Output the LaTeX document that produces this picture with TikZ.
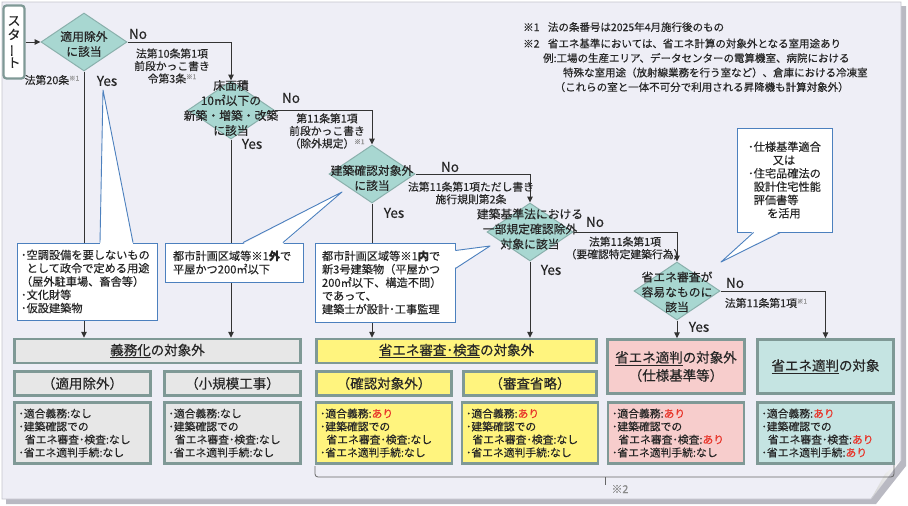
\documentclass[tikz,border=0pt]{standalone}
\usepackage{fontspec}
\setmainfont{Noto Sans CJK JP}[FakeBold=0.3]
\usepackage{xcolor}
\usepackage{tikz}
\usetikzlibrary{arrows.meta,shapes.geometric}
\definecolor{txt}{HTML}{262626}
\definecolor{linec}{HTML}{333333}
\definecolor{panel}{HTML}{EEEEF6}
\definecolor{panelline}{HTML}{C4C4CE}
\definecolor{shadowc}{HTML}{B9B9C2}
\definecolor{diafill}{HTML}{A8D7D1}
\definecolor{diaedge}{HTML}{8AB0AC}
\definecolor{boxedge}{HTML}{7F9996}
\definecolor{grayfill}{HTML}{E7E7E7}
\definecolor{yelfill}{HTML}{FFF47E}
\definecolor{pinkfill}{HTML}{F7CDCC}
\definecolor{tealfill}{HTML}{C5E4E2}
\definecolor{callc}{HTML}{4C80BE}
\definecolor{redtxt}{HTML}{E8352A}
\definecolor{notegray}{HTML}{8A8A8A}
\newcommand{\kome}[1]{\raisebox{3.5pt}{\fontsize{6.5}{7}\selectfont\textcolor{notegray}{※#1}}}
\newcommand{\ari}{\textcolor{redtxt}{あり}}
\tikzset{
  conn/.style={draw=linec, line width=1pt, -{Triangle[length=6pt,width=5.5pt]}},
  startbox/.style={draw=boxedge, fill=white, line width=2.2pt, rounded corners=3pt, minimum width=21pt, minimum height=73pt, inner sep=0pt, align=center, text=txt, font=\fontsize{13}{14}\selectfont},
  dia/.style={diamond, draw=diaedge, fill=diafill, line width=1pt, minimum width=86pt, minimum height=58pt, inner sep=0pt},
  dtxt/.style={text=txt, align=center, font=\fontsize{11.8}{15}\selectfont, inner sep=0pt},
  lbl/.style={text=txt, align=center, font=\fontsize{10.8}{12.5}\selectfont, inner sep=0pt},
  yn/.style={text=txt, font=\fontsize{13.5}{14}\selectfont, inner sep=0pt},
  call/.style={draw=callc, fill=white, line width=0.9pt, text=txt, align=left, inner sep=0pt, font=\fontsize{11.2}{13.3}\selectfont},
  tail/.style={draw=callc, line width=0.9pt, line join=round},
  hdr/.style={draw=boxedge, line width=2.5pt, text=txt, align=center, inner sep=0pt, font=\fontsize{13.5}{18}\selectfont},
  det/.style={draw=boxedge, line width=2.5pt, text=txt, align=left, inner xsep=4pt, inner ysep=0pt, text width=128pt, minimum height=61pt, font=\fontsize{10.8}{13}\selectfont},
  brace/.style={draw=gray!80!black, line width=0.8pt, rounded corners=3pt},
  notes/.style={text=txt, align=left, inner sep=0pt, font=\fontsize{10.5}{14.5}\selectfont},
}
\begin{document}
\begin{tikzpicture}[x=1pt,y=-1pt]
  \useasboundingbox (0,0) rectangle (908,506);
  \fill[white] (0,0) rectangle (908,506);
  \fill[shadowc] (6,6) -- (906,6) -- (906,466) -- (876,504) -- (6,504) -- cycle;
  \filldraw[fill=panel, draw=panelline, line width=0.8pt] (2,2) -- (901,2) -- (901,460) -- (871,499) -- (2,499) -- cycle;
  \shade[left color=gray!35, right color=white] (901,460) -- (871,499) -- (885,474) -- cycle;

  % notes
  \node[notes, anchor=north west] (notes) at (523,22) {※1\hspace{0.8em}法の条番号は2025年4月施行後のもの\\[2pt]※2\hspace{0.8em}省エネ基準においては、省エネ計算の対象外となる室用途あり\\\hspace{1.9em}例:工場の生産エリア、データセンターの電算機室、病院における\\\hspace{3.8em}特殊な室用途（放射線業務を行う室など）、倉庫における冷凍室\\\hspace{3em}（これらの室と一体不可分で利用される昇降機も計算対象外）};

  % start and decisions
  \node[startbox] (start) at (14,42) {ス\\タ\\\rotatebox[origin=c]{90}{ー}\\ト};
  \node[dia] (d1) at (84,42) {};
  \node[dia] (d2) at (231,110) {};
  \node[dia] (d3) at (372,174) {};
  \node[dia] (d4) at (530,232) {};
  \node[dia] (d5) at (677,291) {};
  \node[dtxt] (d1t) at (84,44) {適用除外\\に該当};
  \node[dtxt] (d2t) at (231,108) {床面積\\10㎡以下の\\新築・増築・改築\\に該当};
  \node[dtxt] (d3t) at (372,178) {建築確認対象外\\に該当};
  \node[dtxt] (d4t) at (530,229) {建築基準法における\\一部規定確認除外\\対象に該当};
  \node[dtxt] (d5t) at (677,292) {省エネ審査が\\容易なものに\\該当};

  % result boxes
  \node[hdr, fill=grayfill, minimum width=286pt, minimum height=24pt] (hdr1) at (157.5,351) {\underline{義務化}の対象外};
  \node[hdr, fill=grayfill, minimum width=136pt, minimum height=24pt] (sub1a) at (82.5,383.5) {（適用除外）};
  \node[hdr, fill=grayfill, minimum width=136pt, minimum height=24pt] (sub1b) at (232.5,383.5) {（小規模工事）};
  \node[det, fill=grayfill] (det1a) at (82.5,433) {･適合義務:なし\\･建築確認での\\\hspace{0.6em}省エネ審査･検査:なし\\･省エネ適判手続:なし};
  \node[det, fill=grayfill] (det1b) at (232.5,433) {･適合義務:なし\\･建築確認での\\\hspace{0.6em}省エネ審査･検査:なし\\･省エネ適判手続:なし};
  \node[hdr, fill=yelfill, minimum width=280pt, minimum height=24pt] (hdr2) at (456.5,351) {\underline{省エネ審査･検査}の対象外};
  \node[hdr, fill=yelfill, minimum width=135pt, minimum height=24pt] (sub2a) at (384,383.5) {（確認対象外）};
  \node[hdr, fill=yelfill, minimum width=133pt, minimum height=24pt] (sub2b) at (530,383.5) {（審査省略）};
  \node[det, fill=yelfill] (det2a) at (384,433) {･適合義務:\ari\\･建築確認での\\\hspace{0.6em}省エネ審査･検査:なし\\･省エネ適判手続:なし};
  \node[det, fill=yelfill] (det2b) at (530,433) {･適合義務:\ari\\･建築確認での\\\hspace{0.6em}省エネ審査･検査:なし\\･省エネ適判手続:なし};
  \node[hdr, fill=pinkfill, minimum width=137pt, minimum height=54pt] (box3) at (676,366.5) {\underline{省エネ適判}の対象外\\（仕様基準等）};
  \node[det, fill=pinkfill] (det3) at (676,433) {･適合義務:\ari\\･建築確認での\\\hspace{0.6em}省エネ審査･検査:\ari\\･省エネ適判手続:なし};
  \node[hdr, fill=tealfill, minimum width=136pt, minimum height=54pt] (box4) at (825.5,366.5) {\underline{省エネ適判}の対象};
  \node[det, fill=tealfill] (det4) at (825.5,433) {･適合義務:\ari\\･建築確認での\\\hspace{0.6em}省エネ審査･検査:\ari\\･省エネ適判手続:\ari};

  % connectors
  \draw[conn] (start.east) -- (d1.west);
  \draw[conn] (d1.east) -| (d2.north);
  \draw[conn] (d1.south) -- (d1.south |- hdr1.north);
  \draw[conn] (d2.east) -| (d3.north);
  \draw[conn] (d2.south) -- (d2.south |- hdr1.north);
  \draw[conn] (d3.east) -| (d4.north);
  \draw[conn] (d3.south) -- (d3.south |- hdr2.north);
  \draw[conn] (d4.east) -| (d5.north);
  \draw[conn] (d4.south) -- (d4.south |- hdr2.north);
  \draw[conn] (d5.south) -- (d5.south |- box3.north);
  \draw[conn] (d5.east) -| (box4.north);

  % edge labels
  \node[yn] (no1) at (138,34) {No};
  \node[lbl] (l1) at (172,66) {法第10条第1項\\前段かっこ書き\\令第3条\kome{1}};
  \node[lbl] (l20) at (52,80) {法第20条\kome{1}};
  \node[yn] (yes1) at (107,81) {Yes};
  \node[yn] (no2) at (291,98) {No};
  \node[lbl] (l2) at (327,131) {第11条第1項\\前段かっこ書き\\（除外規定）\kome{1}};
  \node[yn] (yes2) at (252,144) {Yes};
  \node[yn] (no3) at (450,167) {No};
  \node[lbl] (l3) at (471,193) {法第11条第1項ただし書き\\施行規則第2条};
  \node[yn] (yes3) at (394,213) {Yes};
  \node[yn] (no4) at (595,222) {No};
  \node[lbl] (l4) at (625,248) {法第11条第1項\\（要確認特定建築行為）};
  \node[yn] (yes4) at (551,270) {Yes};
  \node[yn] (no5) at (735,283) {No};
  \node[lbl] (l5) at (766,303) {法第11条第1項\kome{1}};
  \node[yn] (yes5) at (699,327) {Yes};

  % callouts
  \node[call, minimum width=140pt, minimum height=77pt, text width=132pt] (c1) at (87,281.5) {･空調設備を要しないもの\\\hspace{0.5em}として政令で定める用途\\（屋外駐車場、畜舎等）\\･文化財等\\･仮設建築物};
  \node[call, minimum width=138pt, minimum height=39pt, text width=122pt] (c2) at (234,262.5) {都市計画区域等※1\textbf{外}で\\平屋かつ200㎡以下};
  \node[call, minimum width=140pt, minimum height=79pt, text width=126pt] (c3) at (385,282.5) {都市計画区域等※1\textbf{内}で\\新3号建築物（平屋かつ\\200㎡以下、構造不問）\\であって、\\建築士が設計･工事監理};
  \node[call, minimum width=95pt, minimum height=104pt] (c4) at (784.5,180) {･仕様基準適合\\\hspace{2.2em}又は\\･住宅品確法の\\\hspace{0.5em}設計住宅性能\\\hspace{0.5em}評価書等\\\hspace{1.7em}を活用};
  \coordinate (t1) at (103,90);
  \coordinate (t2) at (342,192);
  \coordinate (t3) at (490,246);
  \coordinate (t4) at (721,262);
  \fill[white] ([xshift=13pt,yshift=-1.5pt]c1.north) -- (t1) -- ([xshift=46pt,yshift=-1.5pt]c1.north) -- cycle;
  \draw[tail] ([xshift=13pt]c1.north) -- (t1) -- ([xshift=46pt]c1.north);
  \fill[white] ([xshift=9pt,yshift=-1.5pt]c2.north) -- (t2) -- ([xshift=49pt,yshift=-1.5pt]c2.north) -- cycle;
  \draw[tail] ([xshift=9pt]c2.north) -- (t2) -- ([xshift=49pt]c2.north);
  \fill[white] ([xshift=-1.5pt,yshift=32pt]c3.east) -- (t3) -- ([xshift=-1.5pt,yshift=14pt]c3.east) -- cycle;
  \draw[tail] ([yshift=32pt]c3.east) -- (t3) -- ([yshift=14pt]c3.east);
  \fill[white] ([xshift=-31pt,yshift=1.5pt]c4.south) -- (t4) -- ([xshift=-4pt,yshift=1.5pt]c4.south) -- cycle;
  \draw[tail] ([xshift=-31pt]c4.south) -- (t4) -- ([xshift=-4pt]c4.south);

  % bracket for note 2
  \coordinate (brL) at (315,466);
  \coordinate (brM) at (605,477);
  \coordinate (brR) at (894,465);
  \draw[brace] (brL) |- (brM) -| (brR);
  \draw[brace] (brM) -- ++(0,8);
  \node[lbl, text=notegray] (k2) at (620,489) {※2};
\end{tikzpicture}
\end{document}
